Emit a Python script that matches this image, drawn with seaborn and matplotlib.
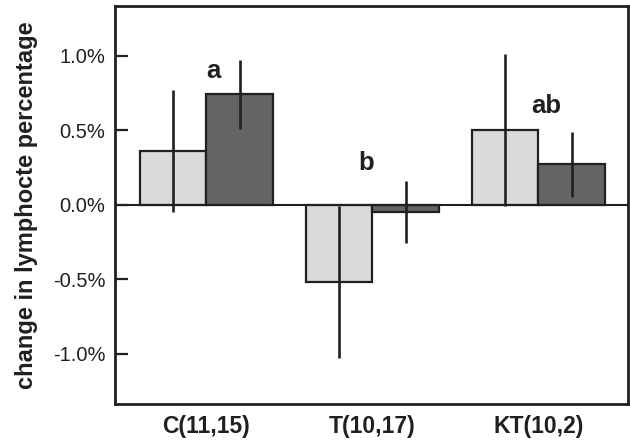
import pandas as pd
import seaborn as sns
import matplotlib.pyplot as plt
from matplotlib.ticker import FuncFormatter

sns.set_style('white')
plt.rcParams['font.family'] = ['Liberation Sans', 'DejaVu Sans']

# values (change in %)
groups = ['C(11,15)', 'T(10,17)', 'KT(10,2)']
series = ['first', 'second']
first_vals = [0.36, -0.52, 0.50]
second_vals = [0.74, -0.05, 0.27]
first_err = [0.41, 0.51, 0.51]
second_err = [0.23, 0.21, 0.22]
letters = ['a', 'b', 'ab']
letter_y = [0.90, 0.28, 0.66]

INK = '#231f20'
colors = ['#d9dadc', '#636467']

rows = []
for i, g in enumerate(groups):
    rows.append({'group': g, 'series': series[0], 'value': first_vals[i], 'err': first_err[i]})
    rows.append({'group': g, 'series': series[1], 'value': second_vals[i], 'err': second_err[i]})
data = pd.DataFrame(rows)

fig, ax = plt.subplots(figsize=(6.3, 4.44), dpi=100)
fig.subplots_adjust(left=0.1825, right=0.997, bottom=0.09, top=0.9865)

sns.barplot(data=data, x='group', y='value', hue='series', order=groups,
            hue_order=series, palette=colors, errorbar=None, width=0.8,
            edgecolor=INK, linewidth=1.6, legend=False, ax=ax, zorder=2)

ax.axhline(0, color=INK, lw=1.5, zorder=3)

# error bars on the bar centres (seaborn draws hue by hue)
for k, s in enumerate(series):
    sub = data[data['series'] == s]
    bars = ax.patches[k * len(groups):(k + 1) * len(groups)]
    xs = [b.get_x() + b.get_width() / 2 for b in bars]
    ax.errorbar(xs, sub['value'], yerr=sub['err'], fmt='none',
                ecolor=INK, elinewidth=1.9, capsize=0, zorder=4)

offsets = [0.04, -0.04, 0.05]
for i, lab in enumerate(letters):
    ax.text(i + offsets[i], letter_y[i], lab, ha='center', va='center',
            fontsize=18.5, fontweight='bold', color=INK)

ax.set_xlim(-0.55, 2.54)
ax.set_ylim(-1.338, 1.334)
ax.set_yticks([-1.0, -0.5, 0.0, 0.5, 1.0])
ax.yaxis.set_major_formatter(FuncFormatter(lambda v, p: f'{v:.1f}%'))
ax.tick_params(axis='y', direction='in', length=9, width=1.6, pad=7,
               labelsize=14.5, colors=INK, left=True)
ax.tick_params(axis='x', length=0, pad=8, labelsize=16.5, colors=INK)
for t in ax.get_xticklabels():
    t.set_fontweight('bold')

ax.set_xlabel('')
ax.set_ylabel('change in lymphocte percentage', fontsize=17,
              fontweight='bold', color=INK)
ax.yaxis.set_label_coords(-0.150, 0.5)

for sp in ax.spines.values():
    sp.set_visible(True)
    sp.set_color(INK)
    sp.set_linewidth(2.0)

plt.savefig('out.png', dpi=100)
